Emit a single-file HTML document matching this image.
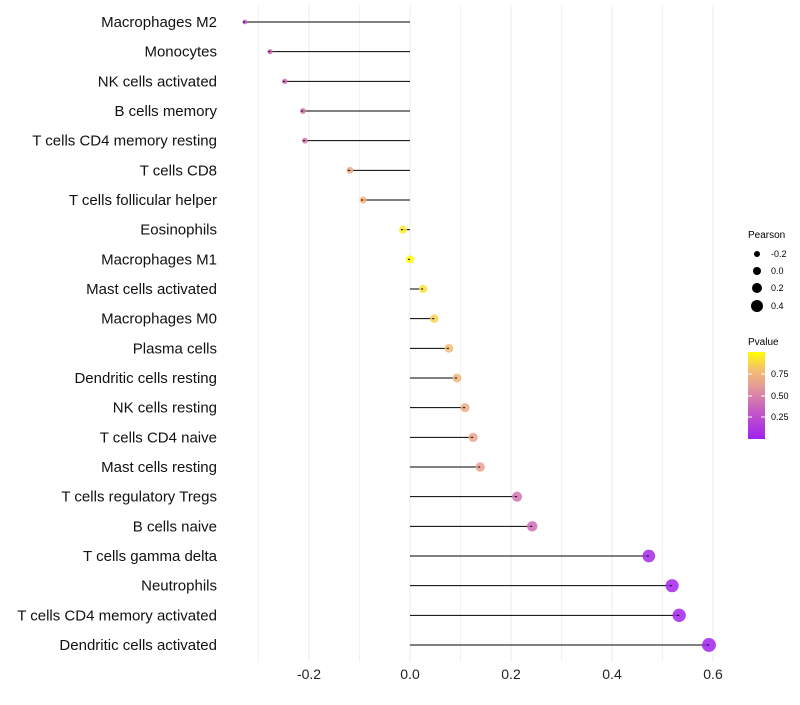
<!DOCTYPE html>
<html><head><meta charset="utf-8"><style>
body{margin:0;background:#fff;font-family:"Liberation Sans",sans-serif}
</style></head><body>
<svg id="chart" width="800" height="700" xmlns="http://www.w3.org/2000/svg">
<defs><linearGradient id="pg" x1="0" y1="1" x2="0" y2="0">
<stop offset="0" stop-color="#A020F0"/><stop offset="0.35" stop-color="#C860C0"/><stop offset="0.6" stop-color="#E49A98"/><stop offset="0.8" stop-color="#F4C070"/><stop offset="1" stop-color="#FFFF00"/></linearGradient></defs>
<g id="grid"></g><g id="marks"></g><g id="labels"></g>
<g font-size="9">
<text x="748" y="238" font-size="10">Pearson</text>
<circle cx="757" cy="254" r="3" fill="#000"/><text x="771" y="257">-0.2</text>
<circle cx="757" cy="271" r="4" fill="#000"/><text x="771" y="274">0.0</text>
<circle cx="757" cy="288" r="5" fill="#000"/><text x="771" y="291">0.2</text>
<circle cx="757" cy="306" r="6" fill="#000"/><text x="771" y="309">0.4</text>
<text x="748" y="345" font-size="10">Pvalue</text>
<rect x="748" y="352" width="17" height="87" fill="url(#pg)"/>
<g stroke="#fff" stroke-width="1"><line x1="748" x2="752" y1="374" y2="374"/><line x1="761" x2="765" y1="374" y2="374"/><line x1="748" x2="752" y1="396" y2="396"/><line x1="761" x2="765" y1="396" y2="396"/><line x1="748" x2="752" y1="417" y2="417"/><line x1="761" x2="765" y1="417" y2="417"/></g>
<text x="771" y="377">0.75</text><text x="771" y="399">0.50</text><text x="771" y="420">0.25</text>
</g>
</svg>
<script>
const categories=["Macrophages M2","Monocytes","NK cells activated","B cells memory","T cells CD4 memory resting","T cells CD8","T cells follicular helper","Eosinophils","Macrophages M1","Mast cells activated","Macrophages M0","Plasma cells","Dendritic cells resting","NK cells resting","T cells CD4 naive","Mast cells resting","T cells regulatory  Tregs ","B cells naive","T cells gamma delta","Neutrophils","T cells CD4 memory activated","Dendritic cells activated"];
const pearson=[-0.327,-0.277,-0.248,-0.212,-0.208,-0.119,-0.093,-0.014,0.0,0.026,0.048,0.077,0.093,0.109,0.125,0.139,0.212,0.242,0.473,0.519,0.533,0.592];
const pvalue=[0.3,0.4,0.4,0.45,0.45,0.68,0.72,0.95,1.0,0.9,0.85,0.78,0.74,0.7,0.66,0.64,0.45,0.4,0.05,0.03,0.03,0.01];
const xTicks=[-0.2,0.0,0.2,0.4,0.6];
const xTickLabels=["-0.2","0.0","0.2","0.4","0.6"];
const NS="http://www.w3.org/2000/svg";
const x=v=>410+v*505;
const y=i=>22+i*(623/21);
const r=v=>4+5*v;
const stops=[[0,[160,32,240]],[0.35,[200,96,192]],[0.6,[228,154,152]],[0.8,[244,192,112]],[1,[255,255,0]]];
function col(p){for(let k=1;k<stops.length;k++){if(p<=stops[k][0]){const a=stops[k-1],b=stops[k],t=(p-a[0])/(b[0]-a[0]);return "rgb("+a[1].map((c,j)=>Math.round(c+(b[1][j]-c)*t)).join(",")+")";}}return "rgb(255,255,0)";}
function mk(tag,attrs,parent){const e=document.createElementNS(NS,tag);for(const k in attrs)e.setAttribute(k,attrs[k]);document.getElementById(parent).appendChild(e);return e;}
for(let v=-0.3;v<=0.61;v+=0.1){const g=mk("line",{x1:x(v),x2:x(v),y1:5,y2:662,stroke:"#f2f2f2","stroke-width":1},"grid");

}
xTicks.forEach((t,i)=>{const g=mk("line",{x1:x(t),x2:x(t),y1:5,y2:662,stroke:"#ebebeb","stroke-width":1},"grid");


const tx=mk("text",{x:x(t),y:679,"text-anchor":"middle","font-size":14,fill:"#222"},"labels");tx.textContent=xTickLabels[i];

});
categories.forEach((c,i)=>{
const tx=mk("text",{x:217,y:y(i)+5,"text-anchor":"end","font-size":15,fill:"#111"},"labels");tx.textContent=c;


const ln=mk("line",{x1:x(0),x2:x(pearson[i]),y1:y(i),y2:y(i),stroke:"#000","stroke-width":1},"marks");


const ci=mk("circle",{cx:x(pearson[i]),cy:y(i),r:r(pearson[i]),fill:col(pvalue[i]),"fill-opacity":0.85},"marks");


const dot=mk("line",{x1:x(pearson[i])-2,x2:x(pearson[i]),y1:y(i),y2:y(i),stroke:"#000","stroke-width":1},"marks");


});
</script>
</body></html>
